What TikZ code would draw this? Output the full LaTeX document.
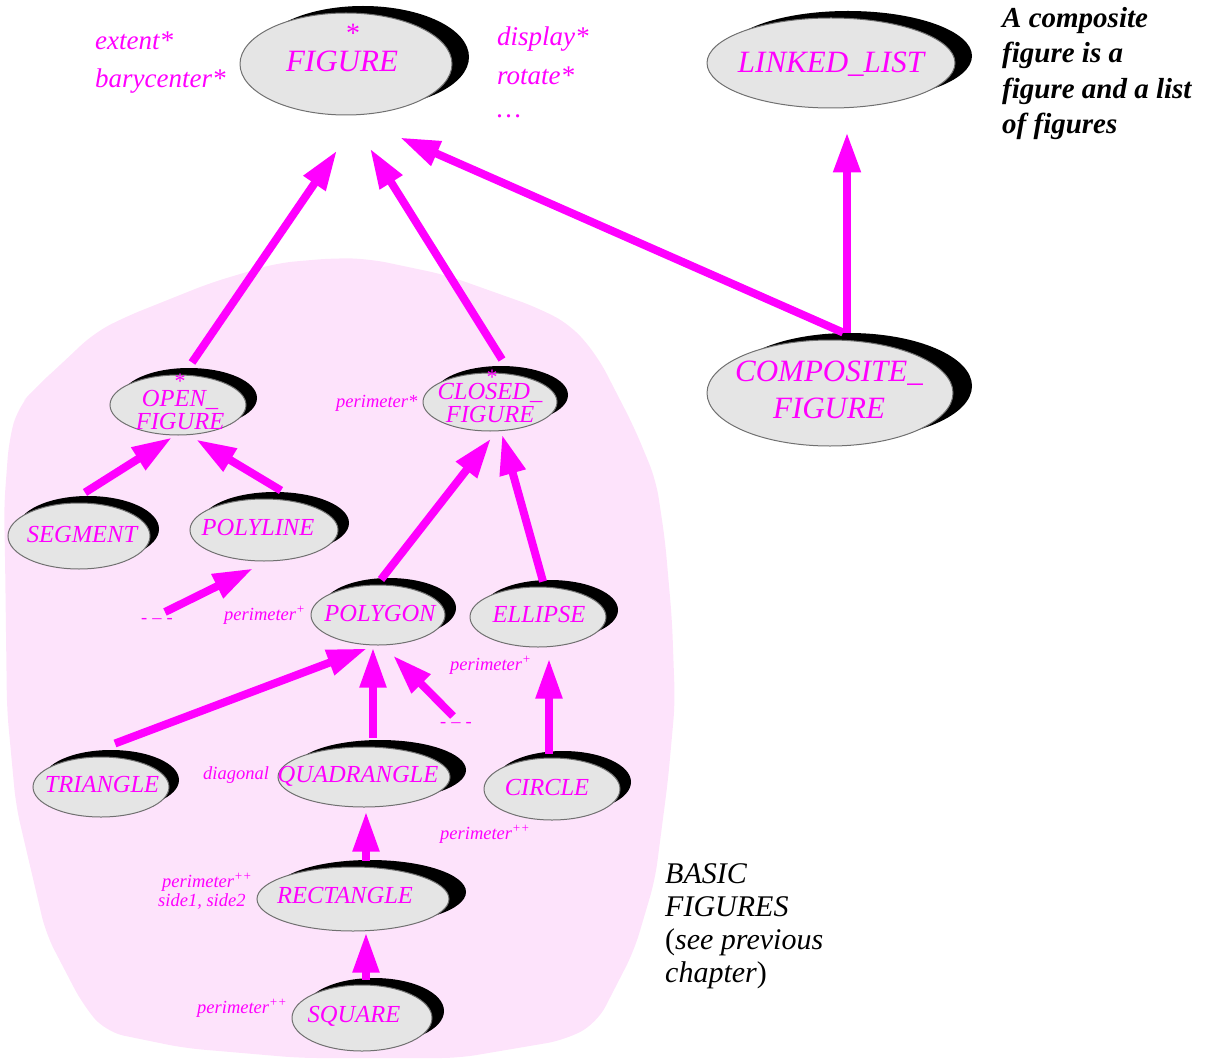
\documentclass[tikz,border=0pt]{standalone}
\usepackage{fontspec}
\setmainfont{Liberation Serif}
\usetikzlibrary{shapes.geometric,arrows.meta,calc,shadows}
\definecolor{pinkbg}{HTML}{FDE3FB}
\definecolor{magen}{HTML}{FF00FF}
\definecolor{clsfill}{HTML}{E5E5E5}
\definecolor{clsborder}{HTML}{707070}
\tikzset{
  cls/.style={ellipse, draw=clsborder, line width=1pt, fill=clsfill, inner sep=0pt},
  shd/.style={drop shadow={shadow xshift=#1, shadow yshift=7pt, fill=black, opacity=1}},
  big/.style={font=\fontsize{31}{37}\selectfont\itshape, text=magen, inner sep=0pt},
  cname/.style={font=\fontsize{24.5}{23}\selectfont\itshape, text=magen, inner sep=0pt},
  starlbl/.style={font=\fontsize{#1}{24}\selectfont, text=magen, inner sep=0pt},
  feat/.style={font=\fontsize{18.5}{21}\selectfont\itshape, text=magen, inner sep=0pt},
  featbig/.style={font=\fontsize{27}{30}\selectfont\itshape, text=magen, inner sep=0pt},
  inh/.style={draw=magen, line width=8pt, -{Triangle[length=40pt,width=25pt]}},
  note/.style={font=\fontsize{29}{35.5}\selectfont\bfseries\itshape, text=black, inner sep=0pt, align=left},
  basic/.style={font=\fontsize{30}{33.3}\selectfont, text=black, inner sep=0pt, align=left}
}
\begin{document}
\begin{tikzpicture}[x=1pt,y=-1pt]
\useasboundingbox (0,0) rectangle (1209,1059);
% background blob
\fill[pinkbg, rounded corners=18pt] (335,258) -- (370,259) -- (446,275) -- (536,307) -- (571,325) -- (598,357) -- (634,427) -- (656,480) -- (665,540) -- (672,620) -- (675,703) -- (668,780) -- (655,880) -- (634,951) -- (597,1023) -- (565,1040) -- (459,1058) -- (300,1058) -- (184,1048) -- (106,1032) -- (83,1005) -- (46,934) -- (16,806) -- (7,710) -- (5,554) -- (4,507) -- (9,440) -- (18,407) -- (36,387) -- (58,367) -- (94,333) -- (125,317) -- (210,283) -- (277,263) -- cycle;

% class ellipses
\node[cls, minimum width=212pt, minimum height=102pt, shd=17pt] (fig) at (346,64) {};
\node[cls, minimum width=248pt, minimum height=90pt, shd=17pt] (ll) at (831,63) {};
\node[cls, minimum width=246pt, minimum height=106pt, shd=19pt] (comp) at (830,393) {};
\node[cls, minimum width=136pt, minimum height=60pt, shd=11pt] (open) at (178,405) {};
\node[cls, minimum width=134pt, minimum height=58pt, shd=11pt] (closed) at (490,402) {};
\node[cls, minimum width=142pt, minimum height=66pt, shd=9pt] (seg) at (79,536) {};
\node[cls, minimum width=148pt, minimum height=62pt, shd=11pt] (poly) at (264,530) {};
\node[cls, minimum width=134pt, minimum height=60pt, shd=11pt] (pgon) at (378,615) {};
\node[cls, minimum width=136pt, minimum height=60pt, shd=12pt] (ell) at (538,617) {};
\node[cls, minimum width=136pt, minimum height=60pt, shd=10pt] (tri) at (101,787) {};
\node[cls, minimum width=172pt, minimum height=60pt, shd=16pt] (quad) at (364,777) {};
\node[cls, minimum width=136pt, minimum height=62pt, shd=11pt] (circ) at (552,789) {};
\node[cls, minimum width=192pt, minimum height=64pt, shd=17pt] (rect) at (353,899) {};
\node[cls, minimum width=140pt, minimum height=66pt, shd=12pt] (sq) at (362,1018) {};

% class names
\node[starlbl=28, anchor=base] (figs) at (353,43) {*};
\node[big, anchor=base] (figt) at (342,72) {FIGURE};
\node[big, anchor=base] (llt) at (831,73) {LINKED\_LIST};
\node[big, align=center] (compt) at (829,390) {COMPOSITE\_\\FIGURE};
\node[starlbl=22, anchor=base] (opens) at (180,388) {*};
\node[cname, align=center] (opent) at (180,410) {OPEN\_\\FIGURE};
\node[starlbl=22, anchor=base] (closeds) at (492,384) {*};
\node[cname, align=center] (closedt) at (490,403) {CLOSED\_\\FIGURE};
\node[cname, anchor=base] (segt) at (82,542) {SEGMENT};
\node[cname, anchor=base] (polyt) at (258,535) {POLYLINE};
\node[cname, anchor=base] (pgont) at (380,621) {POLYGON};
\node[cname, anchor=base] (ellt) at (539,622) {ELLIPSE};
\node[cname, anchor=base] (trit) at (102,792) {TRIANGLE};
\node[cname, anchor=base] (quadt) at (358,782) {QUADRANGLE};
\node[cname, anchor=base] (circt) at (547,795) {CIRCLE};
\node[cname, anchor=base] (rectt) at (345,903) {RECTANGLE};
\node[cname, anchor=base] (sqt) at (354,1022) {SQUARE};

% features
\node[featbig, anchor=base west] (f1) at (95,50) {extent*};
\node[featbig, anchor=base west] (f2) at (95,88) {barycenter*};
\node[featbig, anchor=base west] (f3) at (497,46) {display*};
\node[featbig, anchor=base west] (f4) at (497,85) {rotate*};
\node[featbig, anchor=base west] (f5) at (497,118) {\ldots};
\node[feat, anchor=base west] (f6) at (336,407) {perimeter*};
\node[feat, anchor=base west] (f7) at (224,620) {perimeter\textsuperscript{+}};
\node[feat, anchor=base west] (f8) at (450,670) {perimeter\textsuperscript{+}};
\node[feat, anchor=base west] (f9) at (203,779) {diagonal};
\node[feat, anchor=base west] (f10) at (440,839) {perimeter\textsuperscript{++}};
\node[feat, anchor=base west] (f11) at (162,887) {perimeter\textsuperscript{++}};
\node[feat, anchor=base west] (f12) at (158,906) {side1, side2};
\node[feat, anchor=base west] (f13) at (197,1013) {perimeter\textsuperscript{++}};
\node[feat] (d1) at (157,621) {-\hspace{5pt}--\hspace{5pt}-};
\node[feat] (d2) at (456,725) {-\hspace{5pt}--\hspace{5pt}-};

% notes
\node[note, anchor=north west] (note) at (1002,7) {A composite\\figure is a\\figure and a list\\of figures};
\node[basic, anchor=north west] (basic) at (665,863) {\textit{BASIC}\\\textit{FIGURES}\\(\textit{see previous}\\\textit{chapter})};

% inheritance arrows
\draw[inh] ($(open.north)+(14,-12)$) -- ($(fig.south)+(-9,35)$);
\draw[inh] ($(closed.north)+(12,-13)$) -- ($(fig.south)+(24,33)$);
\draw[inh] ($(comp.north)+(13,-7)$) -- ($(fig.south)+(54,22)$);
\draw[inh, -{Triangle[length=40pt,width=26pt]}] ($(comp.north)+(17,-7)$) -- ($(ll.south)+(16,24)$);
\draw[inh] ($(seg.north)+(6,-10)$) -- ($(open.south)+(-6,2)$);
\draw[inh] ($(poly.north)+(17,-8)$) -- ($(open.south)+(18,4)$);
\draw[inh] ($(pgon.north)+(3,-5)$) -- ($(closed.south)+(1,7)$);
\draw[inh] ($(ell.north)+(5,-5)$) -- ($(closed.south)+(12,3)$);
\draw[inh] ($(d1)+(8,-9)$) -- ($(poly.south)+(-11,7)$);
\draw[inh] ($(tri.north)+(14,-13)$) -- ($(pgon.south)+(-11,3)$);
\draw[inh] ($(quad.north)+(9,-9)$) -- ($(pgon.south)+(-5,2)$);
\draw[inh] ($(d2)+(-3,-9)$) -- ($(pgon.south)+(15,10)$);
\draw[inh] ($(circ.north)+(-3,-4)$) -- ($(ell.south)+(11,11)$);
\draw[inh] ($(rect.north)+(13,-6)$) -- ($(quad.south)+(2,4)$);
\draw[inh] ($(sq.north)+(4,-5)$) -- ($(rect.south)+(13,1)$);
\end{tikzpicture}
\end{document}
